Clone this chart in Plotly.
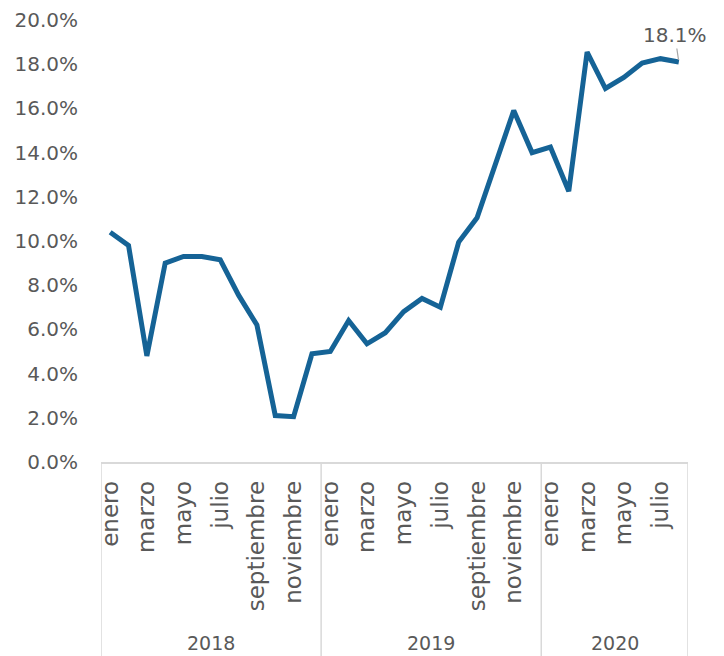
import plotly.graph_objects as go

months = ["enero", "febrero", "marzo", "abril", "mayo", "junio", "julio", "agosto",
          "septiembre", "octubre", "noviembre", "diciembre"]
years = ["2018", "2019", "2020"]
months_per_year = [12, 12, 8]

values = [10.4, 9.8, 4.8, 9.0, 9.3, 9.3, 9.15, 7.55, 6.2, 2.1, 2.05, 4.9,
          5.0, 6.4, 5.35, 5.85, 6.8, 7.4, 7.0, 9.95, 11.05, 13.45, 15.9, 14.0,
          14.25, 12.25, 18.55, 16.9, 17.4, 18.05, 18.25, 18.1]

month_labels = []
for n in months_per_year:
    month_labels += months[:n]
x_idx = list(range(len(values)))

tick_vals = [i for i, m in enumerate(month_labels) if months.index(m) % 2 == 0]
tick_text = [month_labels[i] for i in tick_vals]

FONT = "DejaVu Sans"
GRAY = "#595959"
LINEC = "#d9d9d9"

fig = go.Figure()
fig.add_trace(go.Scatter(x=x_idx, y=values, mode="lines",
                         line=dict(color="#156396", width=5),
                         hoverinfo="skip", showlegend=False))

# year dividers and labels
bottom = -(656 - 462) / 442
start = 0
bounds = [-0.5]
for y, n in zip(years, months_per_year):
    center = start + (n - 1) / 2
    fig.add_annotation(x=center, y=-0.41, xref="x", yref="paper", text=y,
                       showarrow=False, font=dict(family=FONT, size=19, color=GRAY),
                       yanchor="middle")
    start += n
    bounds.append(start - 0.5)
for b in bounds:
    fig.add_shape(type="line", xref="x", yref="paper", x0=b, x1=b, y0=0, y1=bottom,
                  line=dict(color=LINEC, width=1.5))

fig.add_annotation(x=x_idx[-1], y=values[-1], xref="x", yref="y",
                   text=f"{values[-1]:.1f}%", showarrow=True, arrowhead=0,
                   arrowcolor="#a6a6a6", arrowwidth=1.2, ax=-4, ay=-27, standoff=2,
                   font=dict(family=FONT, size=20, color=GRAY))

fig.update_layout(
    width=716, height=648,
    margin=dict(l=93, r=36, t=12, b=194),
    paper_bgcolor="white", plot_bgcolor="white",
    font=dict(family=FONT, color=GRAY, size=20),
    xaxis=dict(range=[-0.5, len(values) - 0.5], tickmode="array",
               tickvals=tick_vals, ticktext=tick_text, tickangle=-90,
               showgrid=False, zeroline=False, showline=True, linecolor=LINEC,
               linewidth=1.5, ticks="", ticklabelstandoff=8, automargin=False,
               tickfont=dict(family=FONT, size=23, color=GRAY)),
    yaxis=dict(range=[0, 20], tickvals=[0, 2, 4, 6, 8, 10, 12, 14, 16, 18, 20],
               ticktext=[f"{v:.1f}%" for v in range(0, 21, 2)],
               showgrid=False, zeroline=False, showline=False, ticks="",
               ticklabelstandoff=22, automargin=False,
               tickfont=dict(family=FONT, size=20, color=GRAY)),
)

fig.write_html("out.html")
